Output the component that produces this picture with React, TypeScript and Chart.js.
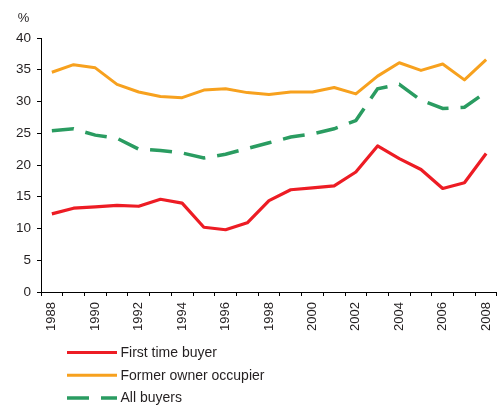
import React, { useEffect, useRef } from "react";
import { Chart, registerables } from "chart.js";

Chart.register(...registerables);

const years = [
  "1988", "1989", "1990", "1991", "1992", "1993", "1994", "1995", "1996", "1997",
  "1998", "1999", "2000", "2001", "2002", "2003", "2004", "2005", "2006", "2007", "2008",
];
const firstTimeBuyer = [
  12.3, 13.2, 13.4, 13.65, 13.5, 14.6, 14.0, 10.2, 9.8, 10.9,
  14.4, 16.1, 16.4, 16.7, 18.9, 23.0, 21.0, 19.3, 16.3, 17.2, 21.8,
];
const formerOwnerOccupier = [
  34.6, 35.8, 35.3, 32.7, 31.5, 30.8, 30.6, 31.8, 32.0, 31.4,
  31.1, 31.5, 31.5, 32.2, 31.2, 34.0, 36.1, 34.9, 35.9, 33.4, 36.6,
];
const allBuyers = [
  25.4, 25.7, 24.7, 24.2, 22.5, 22.3, 21.9, 21.1, 21.7, 22.6,
  23.5, 24.4, 24.9, 25.7, 27.0, 32.0, 32.7, 30.2, 28.9, 29.1, 31.5,
];
const seriesLabels = ["First time buyer", "Former owner occupier", "All buyers"];
const unitLabel = "%";

const FONT = '"Liberation Sans", Arial, sans-serif';
const TEXT = "#231F20";

const extrasPlugin = {
  id: "extras",
  afterDraw(chart: any) {
    const ctx = chart.ctx as CanvasRenderingContext2D;
    const base = chart.chartArea.bottom;
    ctx.save();
    // unit label
    ctx.fillStyle = TEXT;
    ctx.font = `13px ${FONT}`;
    ctx.textAlign = "center";
    ctx.textBaseline = "middle";
    ctx.fillText(unitLabel, 23.5, 18);
    // legend
    chart.data.datasets.forEach((ds: any, i: number) => {
      const y = base + 60.5 + i * 22.7;
      ctx.beginPath();
      ctx.strokeStyle = ds.borderColor;
      ctx.lineWidth = ds.borderWidth;
      ctx.setLineDash(ds.borderDash || []);
      ctx.moveTo(67, y);
      ctx.lineTo(117, y);
      ctx.stroke();
      ctx.setLineDash([]);
      ctx.fillStyle = TEXT;
      ctx.font = `14px ${FONT}`;
      ctx.textAlign = "left";
      ctx.textBaseline = "middle";
      ctx.fillText(ds.label, 120.5, y + 0.5);
    });
    ctx.restore();
  },
};

export default function App() {
  const canvasRef = useRef<HTMLCanvasElement | null>(null);

  useEffect(() => {
    if (!canvasRef.current) return;
    const chart = new Chart(canvasRef.current, {
      type: "line",
      data: {
        labels: years,
        datasets: [
          {
            label: seriesLabels[0],
            data: firstTimeBuyer,
            borderColor: "#ED1C24",
            borderWidth: 3.2,
            pointRadius: 0,
            tension: 0,
            borderJoinStyle: "round",
          },
          {
            label: seriesLabels[1],
            data: formerOwnerOccupier,
            borderColor: "#F7A11E",
            borderWidth: 3,
            pointRadius: 0,
            tension: 0,
            borderJoinStyle: "round",
          },
          {
            label: seriesLabels[2],
            data: allBuyers,
            borderColor: "#2A9C61",
            borderWidth: 3.5,
            borderDash: [22, 12],
            pointRadius: 0,
            tension: 0,
          },
        ],
      },
      options: {
        animation: false,
        responsive: false,
        maintainAspectRatio: false,
        layout: { padding: { top: 38, bottom: 65, left: 0, right: 0 } },
        plugins: {
          legend: { display: false },
          tooltip: { enabled: false },
        },
        scales: {
          x: {
            type: "category",
            offset: true,
            afterFit: (scale: any) => {
              scale.height = 48;
              scale.paddingLeft = 0;
              scale.paddingRight = 0;
            },
            grid: {
              offset: true,
              drawOnChartArea: false,
              drawTicks: true,
              tickLength: 4,
              color: "#000",
            },
            border: { display: true, color: "#000", width: 1 },
            ticks: {
              autoSkip: false,
              minRotation: 90,
              maxRotation: 90,
              padding: 6,
              color: TEXT,
              font: { family: FONT, size: 13 },
              callback: function (this: any, _v: any, i: number) {
                const y = years[i];
                return Number(y) % 2 === 0 ? y : "";
              },
            },
          },
          y: {
            min: 0,
            max: 40,
            afterFit: (scale: any) => {
              scale.width = 41;
              scale.paddingTop = 0;
              scale.paddingBottom = 0;
            },
            grid: {
              drawOnChartArea: false,
              drawTicks: true,
              tickLength: 4,
              color: "#000",
            },
            border: { display: true, color: "#000", width: 1 },
            ticks: {
              stepSize: 5,
              padding: 6,
              color: TEXT,
              font: { family: FONT, size: 13.5 },
            },
          },
        },
      },
      plugins: [extrasPlugin],
    } as any);
    return () => chart.destroy();
  }, []);

  return (
    <div style={{ position: "fixed", left: 0, top: 0, width: 497, height: 405, background: "#fff" }}>
      <canvas ref={canvasRef} width={497} height={405} style={{ display: "block" }} />
    </div>
  );
}
